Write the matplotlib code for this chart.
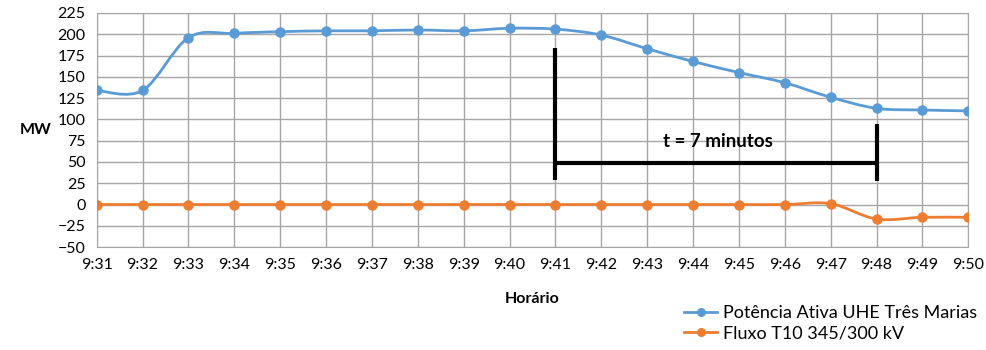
import matplotlib
matplotlib.use("Agg")
import matplotlib.pyplot as plt
from matplotlib.path import Path
from matplotlib.patches import PathPatch
from matplotlib.lines import Line2D
import numpy as np

times = ["9:31", "9:32", "9:33", "9:34", "9:35", "9:36", "9:37", "9:38", "9:39", "9:40",
         "9:41", "9:42", "9:43", "9:44", "9:45", "9:46", "9:47", "9:48", "9:49", "9:50"]
potencia = [134, 134, 196, 201, 203, 204, 204, 205, 204, 207,
            206, 199, 183, 168, 155, 143, 126, 113, 111, 110]
fluxo = [0, 0, 0, 0, 0, 0, 0, 0, 0, 0,
         0, 0, 0, 0, 0, 0, 1, -17, -15, -15]
yticks = list(range(-50, 226, 25))

BLUE = "#5B9BD5"
ORANGE = "#ED7D31"
FONT = ["Lato", "DejaVu Sans"]
plt.rcParams['font.family'] = FONT

fig = plt.figure(figsize=(9.87, 3.5), dpi=100)
ax = fig.add_axes([0.098, 0.294, 0.883, 0.669])

x = np.arange(len(times))


def smooth_path(xs, ys, t=1/6):
    xs = np.asarray(xs, float); ys = np.asarray(ys, float)
    n = len(xs)
    verts = [(xs[0], ys[0])]
    codes = [Path.MOVETO]
    for i in range(n - 1):
        x0, y0 = (xs[i - 1], ys[i - 1]) if i > 0 else (xs[i], ys[i])
        x1, y1 = xs[i], ys[i]
        x2, y2 = xs[i + 1], ys[i + 1]
        x3, y3 = (xs[i + 2], ys[i + 2]) if i + 2 < n else (xs[i + 1], ys[i + 1])
        c1 = (x1 + (x2 - x0) * t, y1 + (y2 - y0) * t)
        c2 = (x2 - (x3 - x1) * t, y2 - (y3 - y1) * t)
        verts += [c1, c2, (x2, y2)]
        codes += [Path.CURVE4] * 3
    return Path(verts, codes)


for ys, col in [(potencia, BLUE), (fluxo, ORANGE)]:
    ax.add_patch(PathPatch(smooth_path(x, ys), facecolor="none", edgecolor=col, lw=2.0,
                           zorder=3, capstyle="round", joinstyle="round"))
    ax.plot(x, ys, linestyle="none", marker="o", markersize=6.5, color=col, zorder=4)

ax.set_xlim(0, len(times) - 1)
ax.set_ylim(-50, 225)
ax.set_xticks(x)
ax.set_xticklabels(times)
ax.set_yticks(yticks)
ax.grid(True, color="#a6a6a6", lw=1.0)
ax.set_axisbelow(True)
for s in ax.spines.values():
    s.set_color("#a6a6a6")
ax.tick_params(length=0, labelsize=11.5, colors="#000000", pad=8)

ax.set_xlabel("Horário", fontsize=11.5, fontweight="bold", labelpad=14)
ax.set_ylabel("MW", fontsize=11.5, fontweight="bold", rotation=0, labelpad=16, va="center")

# annotation
i41 = times.index("9:41"); i48 = times.index("9:48")
ax.plot([i41, i41], [29, 184], color="black", lw=3, zorder=5, solid_capstyle="butt")
ax.plot([i48, i48], [28, 94], color="black", lw=3, zorder=5, solid_capstyle="butt")
ax.plot([i41, i48], [49, 49], color="black", lw=3, zorder=5, solid_capstyle="butt")
ax.text((i41 + i48) / 2 + 0.05, 74, "t = 7 minutos", ha="center", va="center",
        fontsize=13.5, fontweight="bold", zorder=6)

handles = [Line2D([], [], color=BLUE, lw=2, marker="o", markersize=5.5),
           Line2D([], [], color=ORANGE, lw=2, marker="o", markersize=5.5)]
fig.legend(handles, ["Potência Ativa UHE Três Marias", "Fluxo T10 345/300 kV"],
           loc="upper left", bbox_to_anchor=(0.693, 0.128), frameon=False,
           fontsize=13, handlelength=1.85, handletextpad=0.3, labelspacing=0.25,
           borderaxespad=0, borderpad=0)

fig.savefig("out.png", dpi=100)
